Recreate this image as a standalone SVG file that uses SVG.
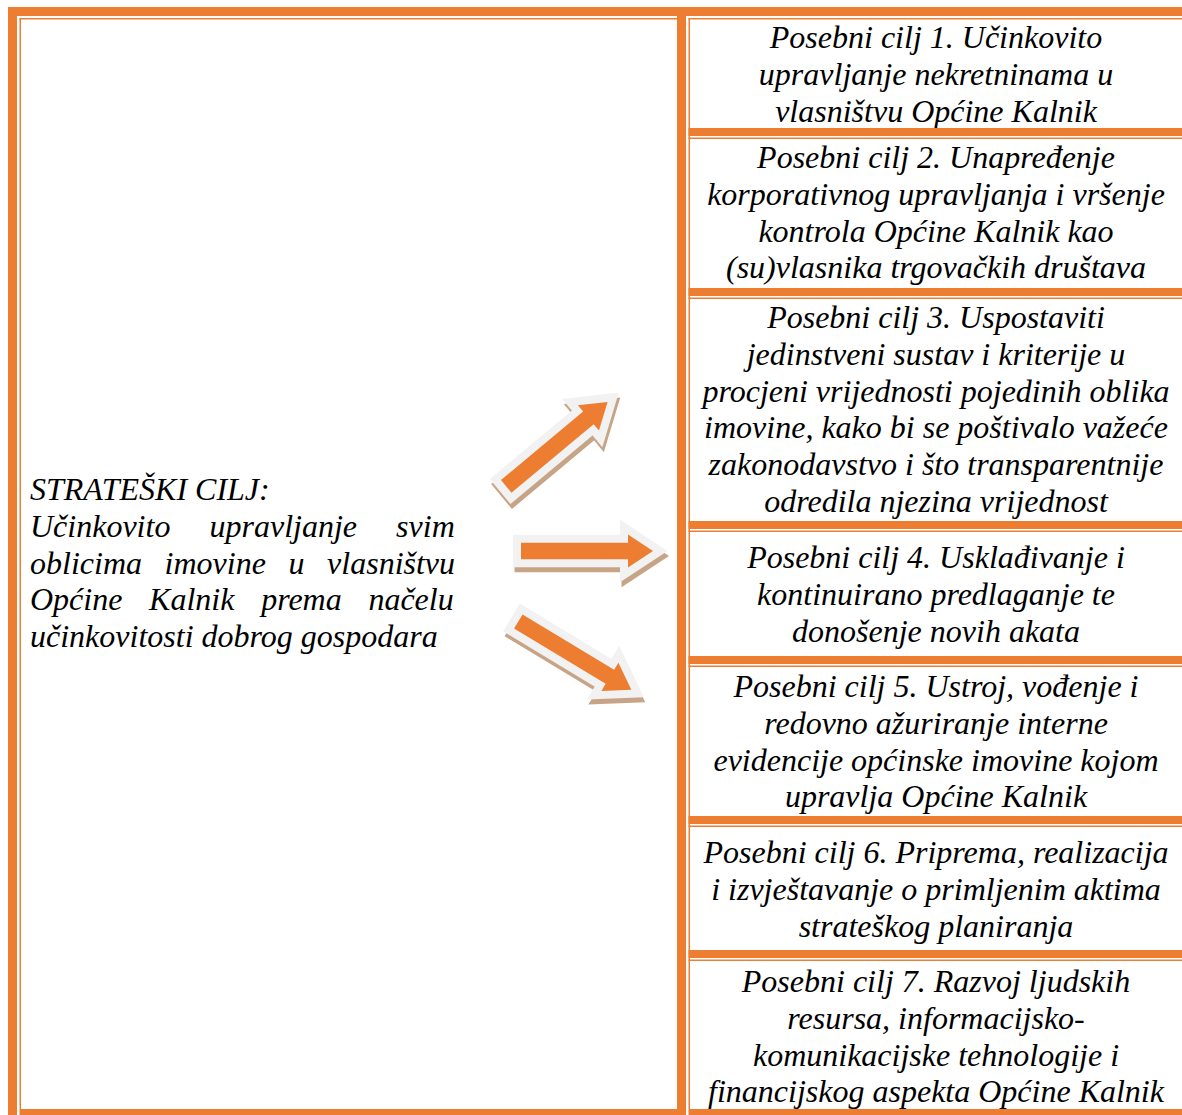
<svg xmlns="http://www.w3.org/2000/svg" width="1182" height="1115" viewBox="0 0 1182 1115">
<style>
.o{fill:#ED7D31}
.t{font-family:"Liberation Serif","Times New Roman",serif;font-style:italic;font-size:32px;fill:#000}
.c{text-anchor:middle}
.sh{fill:#C8A487;stroke:#C8A487;stroke-width:16;stroke-linejoin:miter;stroke-miterlimit:6}
.gl{fill:#F2F2F2;stroke:#F2F2F2;stroke-width:16;stroke-linejoin:miter;stroke-miterlimit:6}
.af{fill:#ED7D31}
</style>
<defs>
<polygon id="arr" points="0,-8.2 107,-8.2 107,-16.5 132,0 107,16.5 107,8.2 0,8.2"/>
<g id="arrow3d">
<use href="#arr" class="sh" transform="translate(1.5,5)"/>
<use href="#arr" class="gl"/>
<use href="#arr" class="af"/>
</g>
</defs>
<rect width="1182" height="1115" fill="#fff"/>
<g id="frame">
<rect class="o" x="8" y="7" width="9" height="1108"/>
<rect class="o" x="8" y="7" width="1174" height="9"/>
<rect class="o" x="19.5" y="18" width="1.5" height="1091"/>
<rect class="o" x="19.5" y="18" width="657.5" height="1.5"/>
<rect class="o" x="677" y="16" width="9" height="1099"/>
<rect class="o" x="19.5" y="1109" width="657.5" height="6"/>
<rect class="o" x="688.5" y="18" width="1.5" height="1091"/>
<rect class="o" x="688.5" y="18" width="493.5" height="1.5"/>
<rect class="o" x="688.5" y="1109" width="493.5" height="6"/>
</g>
<g id="strategic-goal">
<text class="t" x="30" y="500">STRATEŠKI CILJ:</text>
<text class="t" x="30" y="536.8" word-spacing="31.1">Učinkovito upravljanje svim</text>
<text class="t" x="30" y="573.6" word-spacing="14.6">oblicima imovine u vlasništvu</text>
<text class="t" x="30" y="610.4" word-spacing="18.7">Općine Kalnik prema načelu</text>
<text class="t" x="30" y="647.2">učinkovitosti dobrog gospodara</text>
</g>
<g id="goal-1">
<text class="t c" x="936" y="48">Posebni cilj 1. Učinkovito</text>
<text class="t c" x="936" y="84.8">upravljanje nekretninama u</text>
<text class="t c" x="936" y="121.6">vlasništvu Općine Kalnik</text>
<rect class="o" x="688.5" y="128" width="493.5" height="8"/>
<rect class="o" x="688.5" y="137.5" width="493.5" height="1.5"/>
</g>
<g id="goal-2">
<text class="t c" x="936" y="168">Posebni cilj 2. Unapređenje</text>
<text class="t c" x="936" y="204.8">korporativnog upravljanja i vršenje</text>
<text class="t c" x="936" y="241.6">kontrola Općine Kalnik kao</text>
<text class="t c" x="936" y="278.4">(su)vlasnika trgovačkih društava</text>
<rect class="o" x="688.5" y="288" width="493.5" height="8"/>
<rect class="o" x="688.5" y="297.5" width="493.5" height="1.5"/>
</g>
<g id="goal-3">
<text class="t c" x="936" y="328">Posebni cilj 3. Uspostaviti</text>
<text class="t c" x="936" y="364.8">jedinstveni sustav i kriterije u</text>
<text class="t c" x="936" y="401.6">procjeni vrijednosti pojedinih oblika</text>
<text class="t c" x="936" y="438.4">imovine, kako bi se poštivalo važeće</text>
<text class="t c" x="936" y="475.2">zakonodavstvo i što transparentnije</text>
<text class="t c" x="936" y="512">odredila njezina vrijednost</text>
<rect class="o" x="688.5" y="521" width="493.5" height="8"/>
<rect class="o" x="688.5" y="530.5" width="493.5" height="1.5"/>
</g>
<g id="goal-4">
<text class="t c" x="936" y="568">Posebni cilj 4. Usklađivanje i</text>
<text class="t c" x="936" y="604.8">kontinuirano predlaganje te</text>
<text class="t c" x="936" y="641.6">donošenje novih akata</text>
<rect class="o" x="688.5" y="656" width="493.5" height="8"/>
<rect class="o" x="688.5" y="665.5" width="493.5" height="1.5"/>
</g>
<g id="goal-5">
<text class="t c" x="936" y="697">Posebni cilj 5. Ustroj, vođenje i</text>
<text class="t c" x="936" y="733.8">redovno ažuriranje interne</text>
<text class="t c" x="936" y="770.6">evidencije općinske imovine kojom</text>
<text class="t c" x="936" y="807.4">upravlja Općine Kalnik</text>
<rect class="o" x="688.5" y="816" width="493.5" height="8"/>
<rect class="o" x="688.5" y="825.5" width="493.5" height="1.5"/>
</g>
<g id="goal-6">
<text class="t c" x="936" y="863">Posebni cilj 6. Priprema, realizacija</text>
<text class="t c" x="936" y="899.8">i izvještavanje o primljenim aktima</text>
<text class="t c" x="936" y="936.6">strateškog planiranja</text>
<rect class="o" x="688.5" y="950" width="493.5" height="8"/>
<rect class="o" x="688.5" y="959.5" width="493.5" height="1.5"/>
</g>
<g id="goal-7">
<text class="t c" x="936" y="992">Posebni cilj 7. Razvoj ljudskih</text>
<text class="t c" x="936" y="1028.8">resursa, informacijsko-</text>
<text class="t c" x="936" y="1065.6">komunikacijske tehnologije i</text>
<text class="t c" x="936" y="1102.4">financijskog aspekta Općine Kalnik</text>
</g>
<g id="connectors">
<g transform="translate(506.2,486.4) rotate(-39.8)">
<use href="#arr" class="sh" transform="rotate(39.8) translate(1.5,5) rotate(-39.8)"/>
<use href="#arr" class="gl"/>
<use href="#arr" class="af"/>
</g>
<g transform="translate(521,551)">
<use href="#arr" class="sh" transform="translate(1.5,5)"/>
<use href="#arr" class="gl"/>
<use href="#arr" class="af"/>
</g>
<g transform="translate(518.3,621.5) rotate(31.1)">
<use href="#arr" class="sh" transform="rotate(-31.1) translate(1.5,5) rotate(31.1)"/>
<use href="#arr" class="gl"/>
<use href="#arr" class="af"/>
</g>
</g>
</svg>
